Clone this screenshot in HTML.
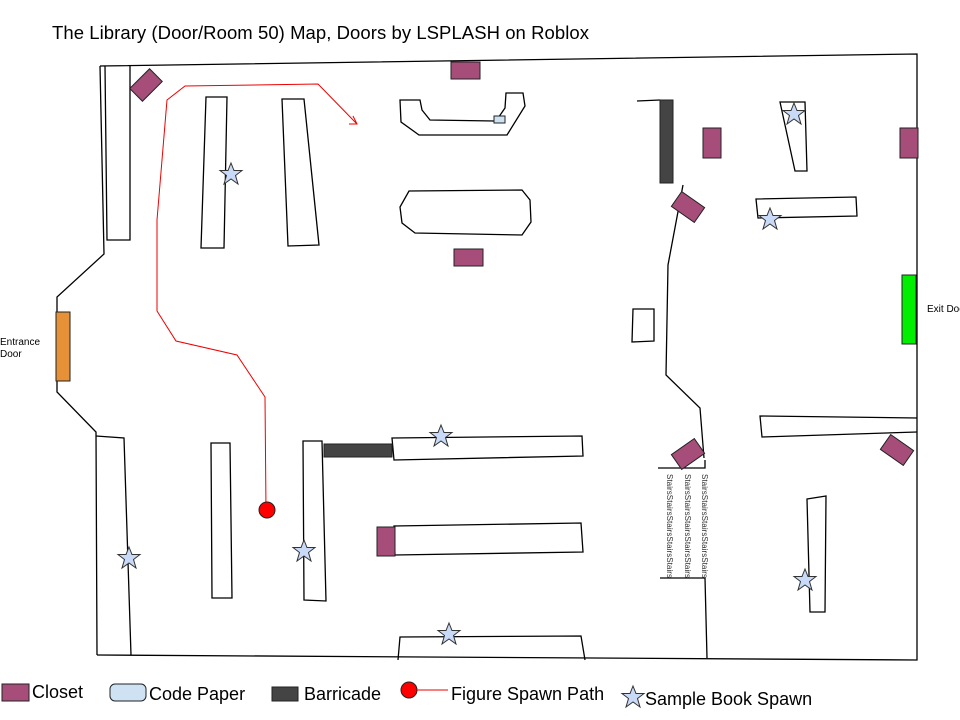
<!DOCTYPE html>
<html><head><meta charset="utf-8"><style>body{margin:0;background:#fff}svg{display:block}text{font-family:"Liberation Sans",sans-serif}</style></head>
<body>
<svg width="960" height="720" viewBox="0 0 960 720" xmlns="http://www.w3.org/2000/svg">
<text x="52" y="39" font-size="18.5" fill="#000" textLength="537">The Library (Door/Room 50) Map, Doors by LSPLASH on Roblox</text>
<g fill="none" stroke="#000" stroke-width="1.3">
<polyline points="100,66 917,54 917,660 97,655"/>
<polyline points="100,66 104,254 57,297 57,392 96,432 97,655"/>
<polyline points="105,66 107,240 130,240 130,66"/>
<polyline points="96,436 124,438 131,655"/>
<polygon points="206,97 227,97 224,248 201,248"/>
<polygon points="282,99 304,99 319,245 288,246"/>
<polygon points="211,443 230,443 232,598 212,598"/>
<polygon points="303,441 322,441 326,601 304,600"/>
<polygon points="392,438 582,436 583,456 394,460"/>
<polygon points="394,526 581,523 583,552 395,555"/>
<polyline points="398,660 400,637 581,636 585,660"/>
<polygon points="400,100 420,100 422,110 430,120 494,121 496,121 505,108 506,93 523,93 525,106 507,135 419,135 401,122"/>
<polygon points="409,191 522,190 530,200 531,222 522,235 415,233 402,223 400,207"/>
<polyline points="637,101 660,100"/>
<polyline points="683,185 668,265 666,375 700,408 704,458"/>
<polyline points="658,468 705,468 705,460"/>
<polyline points="660,578 705,578 707,658"/>
<polygon points="633,309 654,309 654,341 632,342"/>
<polygon points="780,102 805,102 807,171 795,171"/>
<polygon points="756,199 856,197 857,216 758,218"/>
<polyline points="917,418 760,416 762,437 917,432"/>
<polygon points="807,499 826,496 825,612 810,612"/>
</g>
<g font-size="8" fill="#333">
<text transform="translate(702,474) rotate(90)" textLength="104">StairsStairsStairsStairsStairs</text>
<text transform="translate(685,474) rotate(90)" textLength="104">StairsStairsStairsStairsStairs</text>
<text transform="translate(667,474) rotate(90)" textLength="104">StairsStairsStairsStairsStairs</text>
</g>
<g fill="#444" stroke="#222">
<rect x="660" y="100" width="13" height="83"/>
<rect x="324" y="444" width="68" height="13"/>
</g>
<g fill="#a64d79" stroke="#222" stroke-width="1">
<rect x="451" y="62" width="29" height="17"/>
<rect x="454" y="249" width="29" height="17"/>
<rect x="703" y="128" width="18" height="30"/>
<rect x="900" y="128" width="18" height="30"/>
<rect x="377" y="527" width="18" height="29"/>
<rect x="-14" y="-9" width="28" height="18" transform="translate(146,85) rotate(-45)"/>
<rect x="-14" y="-9" width="28" height="18" transform="translate(688,207) rotate(35)"/>
<rect x="-14" y="-9" width="28" height="18" transform="translate(688,454) rotate(-35)"/>
<rect x="-14" y="-9" width="28" height="18" transform="translate(897,450) rotate(35)"/>
</g>
<rect x="56" y="312" width="14" height="69" fill="#e69138" stroke="#222"/>
<rect x="902" y="275" width="14" height="69" fill="#00ee00" stroke="#222"/>
<rect x="494" y="116" width="11" height="7" fill="#cfe2f3" stroke="#222"/>
<text x="0" y="345" font-size="10">Entrance</text>
<text x="0" y="357" font-size="10">Door</text>
<text x="927" y="312" font-size="10">Exit Door</text>
<polyline fill="none" stroke="#e00" stroke-width="1" points="266,510 265,397 237,355 176,341 157,311 157,220 167,100 185,86 318,84 357,124"/>
<polyline fill="none" stroke="#e00" stroke-width="1" points="349,124 357,124 353,116"/>
<circle cx="267" cy="510" r="8" fill="#f00" stroke="#222"/>
<defs><polygon id="s" points="0,-11 3,-3.5 11,-3.5 4.5,1.5 7,10 0,5 -7,10 -4.5,1.5 -11,-3.5 -3,-3.5" fill="#c9daf8" stroke="#333" stroke-width="1"/></defs>
<use href="#s" x="231" y="174"/><use href="#s" x="794" y="114"/><use href="#s" x="770" y="219"/>
<use href="#s" x="441" y="436"/><use href="#s" x="129" y="558"/><use href="#s" x="304" y="551"/>
<use href="#s" x="449" y="634"/><use href="#s" x="805" y="580"/>
<rect x="2" y="684" width="27" height="17" fill="#a64d79" stroke="#222"/>
<text x="32" y="698" font-size="18">Closet</text>
<rect x="110" y="684" width="36" height="17" rx="5" fill="#cfe2f3" stroke="#222"/>
<text x="149" y="700" font-size="18">Code Paper</text>
<rect x="272" y="687" width="26" height="14" fill="#444" stroke="#222"/>
<text x="304" y="700" font-size="18">Barricade</text>
<circle cx="409" cy="690" r="8" fill="#f00" stroke="#222"/>
<line x1="417" y1="690" x2="448" y2="690" stroke="#e00"/>
<text x="451" y="700" font-size="18">Figure Spawn Path</text>
<use href="#s" x="633" y="697"/>
<text x="645" y="705" font-size="18">Sample Book Spawn</text>
</svg>
</body></html>
